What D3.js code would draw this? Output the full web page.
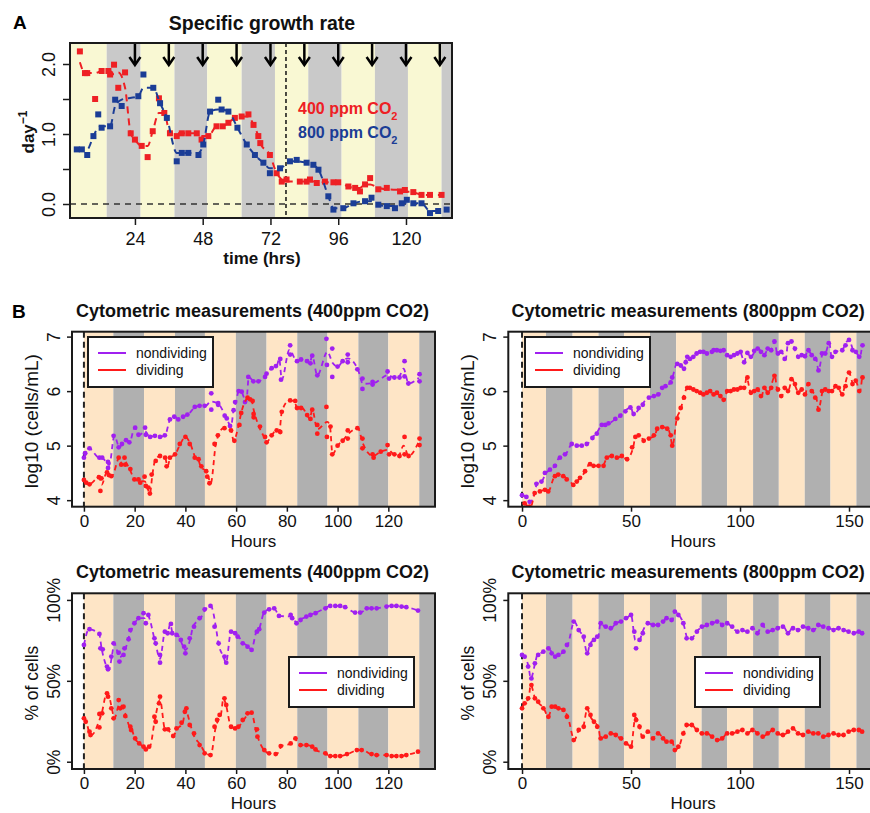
<!DOCTYPE html>
<html>
<head>
<meta charset="utf-8">
<script src="https://cdn.jsdelivr.net/npm/d3@7"></script>
<style>
body { margin: 0; background: #fff; }
svg { display: block; font-family: "Liberation Sans", Arial, Helvetica, sans-serif; }
</style>
</head>
<body>
<script>
// ---- panel A: specific growth rate (hours, day^-1)
const rate400 = [[4.5,2.18],[6.3,1.87],[7.1,1.87],[9.9,1.5],[12.2,1.9],[14.6,1.9],[15.2,1.85],[16.6,1.99],[18.1,1.66],[20.5,1.88],[22.5,1.01],[24,0.92],[26.4,0.83],[28.5,0.67],[30.3,1.04],[32.5,1.51],[34.4,1.3],[36.4,1.01],[38.8,0.97],[40.6,1.01],[42.9,1.01],[45.9,1.01],[47.6,0.92],[50,0.97],[52.9,1.11],[55.1,1.11],[57.1,1.16],[59.4,1.23],[61.8,1.25],[64.2,1.28],[66,1.13],[67.7,0.97],[68.4,0.87],[71.8,0.7],[74.2,0.44],[76,0.32],[77.7,0.35],[82.4,0.32],[84.8,0.32],[86,0.35],[88.4,0.3],[91.3,0.32],[94.3,0.31],[96,0.31],[99.6,0.25],[102,0.23],[103.7,0.18],[105.5,0.28],[107.3,0.37],[110.2,0.21],[113.2,0.23],[117.9,0.18],[119.6,0.2],[122.6,0.17],[125.5,0.13],[128.5,0.13],[132.6,0.13]];
const rate800 = [[3.4,0.78],[5.2,0.78],[7.1,0.7],[9.3,0.97],[11,1.28],[12.2,1.09],[15.2,1.11],[17,1.49],[19.3,1.4],[25.2,1.54],[27,1.85],[30.5,1.66],[32.9,1.44],[35.3,1.23],[38.8,0.61],[40.6,0.73],[42.9,0.73],[46.5,0.7],[48.2,0.85],[50.6,1.32],[53.5,1.49],[54.7,1.35],[57.1,1.32],[60.3,1.09],[63.6,0.85],[66.5,0.7],[69.5,0.59],[71.8,0.44],[75.4,0.51],[78.9,0.61],[81.3,0.63],[84.8,0.59],[87.2,0.56],[89,0.49],[92.5,0.11],[94.3,-0.08],[97.8,-0.06],[101.4,0.01],[105.5,0.04],[107.8,0.09],[110.2,-0.01],[113.2,-0.03],[116.1,-0.06],[118.5,0.01],[120.3,0.06],[122.6,0.01],[125.5,0.01],[128.5,-0.13],[131.4,-0.1],[134.4,-0.08]];
const dawnArrows = [24, 36, 48, 60, 72, 84, 96, 108, 120, 132];
const bandsA = [14, 26, 38, 49.6, 61.8, 73.6, 85.4, 97.2, 109, 120.7, 132.6];
const shiftHourA = 77.5;
const ticksA = [24, 48, 72, 96, 120];
const yTicksA = [0, 0.5, 1, 1.5, 2];

// ---- panel B: light/dark band edges (hours)
const bands400 = [0, 11.6, 23.7, 35.9, 47.7, 59.9, 72, 84.1, 96, 108.2, 120, 132.2];
const bands800 = [0, 11, 23.2, 35.1, 46.8, 58.7, 70.7, 82.4, 94.1, 106, 117.8, 129.7, 141.5, 153.4];
const ticks400 = [0, 20, 40, 60, 80, 100, 120];
const ticks800 = [0, 50, 100, 150];
const logTicks = [4, 5, 6, 7];
const pctTicks = [0, 50, 100];

// log10 cells/mL, 400 ppm
const nd400 = [[0,4.78],[0.5,4.86],[2.2,4.95],[6.1,4.78],[7.2,4.78],[9.5,4.59],[9.5,4.7],[11.7,5.18],[13.7,4.97],[15,5.03],[16.6,5.1],[17.9,5.06],[20.2,5.33],[21.5,5.2],[24.1,5.33],[24.4,5.2],[26.1,5.16],[28,5.18],[30,5.16],[31.9,5.19],[33.9,5.48],[35.6,5.53],[37.2,5.48],[39.1,5.53],[40.8,5.57],[43.7,5.71],[45.6,5.73],[47.6,5.73],[50.2,5.66],[50.2,5.96],[52.9,5.78],[52.9,5.75],[55.5,5.55],[56.3,5.5],[57.6,5.36],[59,5.65],[59.6,5.8],[61,6.0],[62.2,5.99],[63.5,5.8],[64.8,6.26],[66.8,6.18],[68.8,6.18],[71.4,6.26],[72,6.32],[74,6.42],[75.7,6.46],[77.4,6.59],[77.7,6.21],[81.3,6.84],[81.3,6.67],[84,6.55],[85.6,6.58],[88,6.55],[89.3,6.51],[90,6.65],[92,6.29],[95.6,6.96],[95.8,6.48],[97.9,6.78],[97.9,6.26],[100,6.45],[102,6.55],[104,6.53],[104,6.67],[107.8,6.4],[109.8,6.23],[109.8,6.04],[113.8,6.12],[113.8,6.17],[119.7,6.36],[120.3,6.23],[122.4,6.25],[124.4,6.25],[126.4,6.55],[126.4,6.27],[127.9,6.14],[132.3,6.31],[132.3,6.18]];
const dv400 = [[0,4.37],[0.9,4.32],[2.2,4.29],[5.9,4.42],[6.5,4.17],[6.9,4.4],[9.1,4.51],[9.8,4.46],[10.8,4.44],[13.7,4.78],[14.7,4.65],[16,4.78],[16.3,4.65],[18.3,4.57],[19.9,4.38],[21.5,4.38],[22.2,4.32],[23.9,4.43],[24.4,4.26],[25.4,4.23],[26,4.12],[26.7,4.47],[28.3,4.72],[30,4.81],[32,4.78],[32.6,4.62],[33.9,4.78],[35.9,4.84],[37.8,5.03],[40,5.16],[41.7,5.03],[43.7,4.78],[45.2,4.75],[46.3,4.62],[48.2,4.53],[48.6,4.43],[49.5,4.31],[51.5,5.03],[52.8,5.19],[55.4,5.32],[58,5.28],[59.3,5.09],[61.3,5.38],[62,5.6],[64.5,5.88],[65.5,5.85],[66.5,5.82],[66.9,5.58],[66.9,5.52],[69.4,5.35],[71.4,5.16],[72,5.06],[74,5.19],[76,5.28],[77.4,5.25],[78,5.62],[81.3,5.83],[83.3,5.82],[84,5.69],[85.6,5.69],[88,5.56],[89.3,5.49],[90,5.66],[92,5.38],[92,5.22],[95.6,5.71],[95.8,5.16],[97.2,5.35],[97.9,4.84],[100,5],[102,5.09],[104,5.13],[104,5.28],[107.8,5.32],[109.8,5.13],[109.8,4.95],[113.8,4.84],[114.2,4.78],[117,4.89],[119.7,5.01],[120.3,4.84],[122.4,4.84],[124.4,4.81],[126.4,5.16],[126.4,4.84],[128,4.81],[132.3,5.13],[132.3,5.01]];

// log10 cells/mL, 800 ppm
const nd800 = [[0,4.09],[2,4.06],[3.5,3.97],[6.6,4.3],[8.9,4.34],[10.5,4.5],[12.8,4.56],[15.1,4.63],[17.4,4.78],[19.7,4.84],[22.8,5.03],[25.1,5],[27.4,5],[29.7,5.03],[32.3,5.14],[34.3,5.22],[36.6,5.38],[38.2,5.38],[39.7,5.41],[42.8,5.49],[45.1,5.55],[47.4,5.63],[49.7,5.7],[51.2,5.58],[53.5,5.69],[55.4,5.75],[58.2,5.88],[60.5,5.91],[62.5,5.94],[64.3,6.06],[65.8,6.09],[68.2,6.16],[68.9,6.25],[71.2,6.5],[72.8,6.47],[74.3,6.41],[75.1,6.53],[75.8,6.63],[77,6.59],[78.6,6.63],[80.1,6.69],[81.7,6.72],[83.2,6.72],[84.8,6.69],[87.1,6.72],[87.9,6.75],[89.4,6.75],[91,6.74],[92.5,6.75],[94.1,6.66],[95.7,6.63],[97.2,6.66],[98.8,6.69],[100.3,6.72],[101.9,6.53],[103.4,6.7],[105,6.63],[106.5,6.74],[108.1,6.78],[109.6,6.72],[111.2,6.66],[112.7,6.78],[114.3,6.75],[115.8,6.91],[117.4,6.69],[118.9,6.72],[120.5,6.59],[122,6.88],[123.6,6.91],[125.2,6.78],[126.7,6.63],[128.3,6.66],[129.8,6.64],[131.4,6.75],[132.9,6.66],[134.5,6.59],[136,6.38],[137.6,6.69],[139.1,6.69],[140.7,6.88],[142.2,6.63],[143.8,6.72],[146.9,6.75],[148.4,6.84],[150,6.94],[151.6,6.75],[153.1,6.72],[154.7,6.63],[156.2,6.84]];
const dv800 = [[1.2,3.94],[3.5,3.88],[5.8,4.13],[8.2,4.16],[10.5,4.19],[12,4.16],[15.1,4.44],[16.6,4.47],[18.9,4.44],[20.5,4.38],[23.5,4.28],[25.1,4.34],[26.6,4.41],[28.9,4.53],[31.2,4.66],[32.8,4.63],[35.1,4.63],[37.4,4.63],[38.9,4.78],[41.2,4.81],[43.5,4.78],[45.8,4.81],[48.2,4.75],[50.5,4.97],[52,5.16],[53.5,5.19],[55.8,5.09],[58.2,5.13],[60.5,5.19],[62,5.31],[64.3,5.34],[66.6,5.31],[68.2,5.19],[68.9,5],[71.2,5.5],[72.8,5.69],[74.3,5.88],[75.8,6.06],[77,6.06],[78.6,6.03],[80.1,6],[81.7,5.97],[83.2,5.94],[84.8,5.97],[86.3,6],[87.9,5.94],[89.4,5.97],[91,5.91],[92.5,5.84],[94.1,6],[95.7,6],[97.2,6.03],[98.8,6.03],[100.3,6.06],[101.9,6.06],[103.4,6.25],[105,5.97],[106.5,6],[108.1,6.03],[109.6,5.91],[111.2,6.06],[112.7,5.97],[114.3,6.06],[115.8,6.28],[117.4,6.03],[118.9,5.91],[120.5,6.06],[122,6],[123.6,6.22],[125.2,6.13],[126.7,5.97],[128.3,6.03],[129.8,5.94],[131.4,6.13],[132.9,6],[134.5,5.88],[136,5.66],[137.6,6],[139.1,6.03],[140.7,6],[142.2,6],[143.8,6.09],[145.3,6.06],[146.9,5.94],[148.4,6.09],[150,6.34],[151.6,6.13],[153.1,6.19],[154.7,6],[156.2,6.25]];

// % of cells, 400 ppm
const nd400pct = [[0,72.2],[2.2,81.9],[6.1,79],[6.5,70.1],[7.4,69.5],[9.1,58.8],[9.5,57.1],[10.8,65],[11.7,73.2],[13.7,67.4],[14,61.9],[15.6,66],[16,70.1],[17.6,75.7],[18.3,81.4],[19.9,85.6],[21.5,88.7],[23.5,91.8],[24.4,85.6],[25.4,90.7],[27.8,76.3],[28.3,73.2],[30,66],[30,61.2],[31.9,80.4],[33,79.4],[34.3,85.2],[34.8,79.4],[36.5,78.4],[38.2,75.3],[39.5,71.1],[40,67],[41.7,76.3],[43.4,83.5],[45.6,88.7],[47.6,94.2],[49.9,96.3],[51.5,83.5],[53.1,73.2],[55.4,65],[56.1,61.2],[58,80.4],[59.6,79.4],[60.6,77.3],[62.6,73.2],[64.5,71.1],[66.1,69.1],[68.2,80.4],[69.1,81.9],[71.1,92.2],[73,94.2],[75,94.8],[76.9,90.1],[81.5,90.7],[82.1,88.7],[83.8,85.6],[85.4,87.6],[87.7,89.7],[89.3,90.7],[91.3,91.8],[95.2,94.8],[97.1,96.3],[99.1,96.3],[101,96.3],[103,95.5],[106.9,92.2],[108.9,92.2],[111.5,94.8],[113.4,94.8],[115.4,94.8],[119.3,95.9],[121.3,96.3],[123.2,96.3],[125.2,95.9],[127.1,95.5],[131.7,93.4]];
const dv400pct = [[0,26.8],[0.7,24.7],[2.2,18.6],[2.6,16.5],[6.1,29.5],[6.1,21.2],[7.2,29.9],[9.1,42.3],[9.5,40.2],[10.8,33],[11.7,26.8],[13.7,38.1],[14.3,33],[15.6,34],[16.3,28.2],[18.3,21.6],[18.6,19.6],[20.2,14.4],[21.8,11.3],[23.5,9.3],[24.4,7.6],[25.7,9.3],[27.8,27.8],[28.3,24.7],[29.6,36.1],[30,40.2],[31.9,20],[33.2,20],[35.2,15.9],[36.5,20.6],[38.5,24.1],[39.8,30.9],[40.4,33],[41.7,22.7],[43.4,17.5],[45.6,10.3],[47.6,5.2],[49.9,4.1],[51.5,21.6],[52.5,25.8],[53.5,28.9],[55.4,39.2],[56.1,35.1],[58,21.6],[59.6,20.6],[60.9,21.6],[62.6,25.8],[64.5,29.9],[66.1,30.3],[68.2,20],[68.4,15.5],[71.1,7.2],[73,5.2],[75.6,4.7],[77.6,9.7],[81.5,11.3],[83.4,14.4],[85.4,10.3],[87.7,10.3],[90,9.3],[91.3,7.6],[95.2,5.2],[97.1,3.5],[99.1,3.5],[101,3.5],[103.7,4.7],[107.6,7.2],[109.5,7.2],[113.4,4.7],[115.4,4.1],[119.3,4.1],[121.3,3.5],[123.2,3.5],[125.2,3.5],[127.1,4.1],[131.7,6.2]];

// % of cells, 800 ppm
const nd800pct = [[0,66],[1.2,64.9],[2.8,58.8],[4.3,51.5],[5.9,60.8],[7.4,66],[9.8,68],[12.1,70.1],[13.6,67],[15.2,64.9],[16.7,66],[19,68],[20.6,72.2],[23.7,86.6],[26,81.4],[28.3,77.3],[29.9,67],[31.4,72.2],[33,75.3],[34.5,77.3],[36.1,85.6],[38.4,83.5],[40.7,82.5],[43,85.6],[45.4,86.6],[47.7,88.7],[50,90.7],[51.5,80.4],[52.3,70.1],[53.9,75.3],[55.4,79.4],[57.7,85.6],[60.1,84.5],[62.4,84.5],[64.7,86.6],[66.3,88.7],[68.6,87.6],[70.1,92.8],[71.7,90.7],[74,85.6],[75.5,76.3],[77.9,76.3],[80.2,80.4],[82.5,83.5],[84.8,84.5],[87.2,85.6],[89.5,86.6],[91.8,84.5],[94.1,85.6],[96.4,83.5],[98.8,80.4],[101.1,81.4],[103.4,80.4],[105.7,82.5],[108,79.4],[110.4,84.5],[112.7,80.4],[115,81.4],[117.3,82.5],[119.7,83.5],[122,79.4],[124.3,82.5],[126.6,81.4],[128.9,83.5],[131.3,82.5],[133.6,81.4],[135.9,84.5],[138.2,83.5],[140.6,82.5],[142.9,81.4],[145.2,82.5],[147.5,81.4],[149.8,80.4],[152.2,79.4],[154.5,80.4],[156,79.4]];
const dv800pct = [[0,33],[1.2,36.1],[2.8,39.2],[4.3,47.4],[5.9,39.2],[7.4,37.1],[9.8,33],[12.1,27.8],[13.6,34],[15.2,34],[16.7,33],[19,32],[20.6,27.8],[23.7,13.4],[26,19.6],[28.3,21.6],[29.9,33],[31.4,28.9],[33,24.7],[34.5,21.6],[36.1,14.4],[38.4,15.5],[40.7,17.5],[43,16.5],[45.4,14.4],[47.7,11.3],[50,9.3],[51.5,28.9],[52.3,25.8],[53.9,21.6],[55.4,15.5],[57.7,18.6],[60.1,14.4],[62.4,17.5],[64.7,14.4],[66.3,12.4],[68.6,12.4],[70.1,7.2],[71.7,9.3],[74,17.5],[75.5,22.7],[77.9,22.7],[80.2,19.6],[82.5,17.5],[84.8,17.5],[87.2,15.5],[89.5,13.4],[91.8,14.4],[94.1,17.5],[96.4,17.5],[98.8,18.6],[101.1,19.6],[103.4,17.5],[105.7,19.6],[108,17.5],[110.4,15.5],[112.7,17.5],[115,19.6],[117.3,17.5],[119.7,16.5],[122,18.6],[124.3,20.6],[126.6,17.5],[128.9,16.5],[131.3,18.6],[133.6,17.5],[135.9,17.5],[138.2,15.5],[140.6,16.5],[142.9,17.5],[145.2,16.5],[147.5,16.5],[149.8,18.6],[152.2,19.6],[154.5,19.6],[156,18.6]];

const RED = '#ff1a1a', PURPLE = '#a020f0';
const RED_A = '#ee2024', BLUE_A = '#1b3d96';

const svg = d3.select('body').append('svg')
    .attr('width', 870)
    .attr('height', 813);

let clipCount = 0;

// one framed plot region with light/dark bands
function makePanel(o) {
    const x = d3.scaleLinear().domain(o.xDomain).range([o.left, o.right]);
    const y = d3.scaleLinear().domain(o.yDomain).range([o.bottom, o.top]);
    const id = 'clip' + (clipCount++);
    svg.append('clipPath').attr('id', id).append('rect')
        .attr('x', o.left).attr('y', o.top)
        .attr('width', o.right - o.left).attr('height', o.bottom - o.top);
    const g = svg.append('g').attr('clip-path', `url(#${id})`);
    g.append('rect')
        .attr('x', o.left).attr('y', o.top)
        .attr('width', o.right - o.left).attr('height', o.bottom - o.top)
        .attr('fill', '#fff');
    const edges = o.edges;
    g.selectAll('rect.band')
        .data(edges)
        .enter().append('rect')
        .attr('class', 'band')
        .attr('x', d => x(d))
        .attr('y', o.top)
        .attr('width', (d, i) => x(i < edges.length - 1 ? edges[i + 1] : o.xDomain[1]) - x(d))
        .attr('height', o.bottom - o.top)
        .attr('fill', (d, i) => i % 2 ? o.dark : o.light);
    return {x, y, g, o};
}

function frame(p) {
    const o = p.o;
    svg.append('rect')
        .attr('x', o.left).attr('y', o.top)
        .attr('width', o.right - o.left).attr('height', o.bottom - o.top)
        .attr('fill', 'none').attr('stroke', '#1a1a1a').attr('stroke-width', 2);
}

function xAxis(p, ticks, size, pad, fs) {
    const ax = svg.append('g')
        .attr('transform', `translate(0,${p.o.bottom})`)
        .call(d3.axisBottom(p.x).tickValues(ticks).tickSize(size).tickPadding(pad));
    ax.attr('font-family', null).attr('font-size', fs);
    ax.select('.domain').remove();
    ax.selectAll('.tick line').attr('stroke', '#1a1a1a').attr('stroke-width', 1.5);
    ax.selectAll('.tick text').attr('fill', '#111');
}

function yAxis(p, ticks, fmt, size, off, fs) {
    const ax = svg.append('g')
        .attr('transform', `translate(${p.o.left},0)`)
        .call(d3.axisLeft(p.y).tickValues(ticks).tickSize(size).tickFormat(fmt));
    ax.attr('font-family', null).attr('font-size', fs);
    ax.select('.domain').remove();
    ax.selectAll('.tick line').attr('stroke', '#1a1a1a').attr('stroke-width', 1.5);
    ax.selectAll('.tick text')
        .attr('fill', '#111')
        .attr('transform', 'rotate(-90)')
        .attr('x', 0).attr('y', -off).attr('dy', 0)
        .attr('text-anchor', 'middle');
}

function label(x, y, txt, fs, weight, rot) {
    return svg.append('text')
        .attr('transform', `translate(${x},${y})` + (rot ? ' rotate(-90)' : ''))
        .attr('text-anchor', 'middle')
        .attr('font-size', fs)
        .attr('font-weight', weight)
        .attr('fill', '#111')
        .text(txt);
}

// ===================== Panel A =====================
const pA = makePanel({
    left: 70, right: 452, top: 43, bottom: 218,
    xDomain: [1, 136.3], yDomain: [-0.2, 2.3],
    edges: [1].concat(bandsA), light: '#f9f8d3', dark: '#c9c9c9'
});

pA.g.append('line')
    .attr('x1', pA.o.left).attr('x2', pA.o.right)
    .attr('y1', pA.y(0)).attr('y2', pA.y(0))
    .attr('stroke', '#333').attr('stroke-width', 1.5).attr('stroke-dasharray', '6,5');
pA.g.append('line')
    .attr('x1', pA.x(shiftHourA)).attr('x2', pA.x(shiftHourA))
    .attr('y1', pA.o.top).attr('y2', pA.o.bottom)
    .attr('stroke', '#111').attr('stroke-width', 1.5).attr('stroke-dasharray', '4,3');

// smoothed trace: running median of three
function runMedian(data) {
    return data.map((d, i) => [d[0], d3.median(data.slice(Math.max(0, i - 1), i + 2), e => e[1])]);
}

[[rate400, RED_A], [rate800, BLUE_A]].forEach(([data, col]) => {
    pA.g.append('path')
        .attr('d', d3.line().x(d => pA.x(d[0])).y(d => pA.y(d[1])).curve(d3.curveMonotoneX)(runMedian(data)))
        .attr('fill', 'none').attr('stroke', col).attr('stroke-width', 2)
        .attr('stroke-dasharray', '7,5');
    pA.g.selectAll(null)
        .data(data)
        .enter().append('rect')
        .attr('x', d => pA.x(d[0]) - 3)
        .attr('y', d => pA.y(d[1]) - 3)
        .attr('width', 6).attr('height', 6)
        .attr('fill', col);
});

// arrows at the top of the panel
dawnArrows.forEach(h => {
    const ax = pA.x(h);
    svg.append('line')
        .attr('x1', ax).attr('x2', ax).attr('y1', 44).attr('y2', 64)
        .attr('stroke', '#000').attr('stroke-width', 2.5);
    svg.append('path')
        .attr('d', `M${ax - 5.5},${57} L${ax},${65} L${ax + 5.5},${57}`)
        .attr('fill', 'none').attr('stroke', '#000').attr('stroke-width', 2.5);
});

frame(pA);
xAxis(pA, ticksA, 7, 7, 18);
yAxis(pA, yTicksA, d => d % 1 === 0 ? d3.format('.1f')(d) : '', 7, 15, 18);

svg.append('text').attr('x', 13).attr('y', 29)
    .attr('font-size', 19).attr('font-weight', 'bold').text('A');
label(262, 30, 'Specific growth rate', 19.5, 'bold');
label(262, 264, 'time (hrs)', 17, 'bold');
const dayLab = label(34, 132, 'day', 17, 'bold', true);
dayLab.append('tspan').attr('baseline-shift', 'super').attr('font-size', 12).text('−1');

[['400 ppm CO', RED_A, 114], ['800 ppm CO', BLUE_A, 138]].forEach(([t, col, yy]) => {
    const tx = svg.append('text').attr('x', 298).attr('y', yy)
        .attr('font-size', 16).attr('font-weight', 'bold').attr('fill', col).text(t);
    tx.append('tspan').attr('baseline-shift', 'sub').attr('font-size', 11).text('2');
});

// ===================== Panel B =====================
svg.append('text').attr('x', 12).attr('y', 318)
    .attr('font-size', 19).attr('font-weight', 'bold').text('B');

function cytoPanel(o) {
    const p = makePanel(o);
    p.g.append('line')
        .attr('x1', p.x(0)).attr('x2', p.x(0))
        .attr('y1', o.top).attr('y2', o.bottom)
        .attr('stroke', '#222').attr('stroke-width', 2).attr('stroke-dasharray', '6,4');
    o.series.forEach(([data, col]) => {
        const trend = d3.rollups(data, v => d3.mean(v, d => d[1]), d => Math.round(d[0]))
            .sort((a, b) => a[0] - b[0]);
        p.g.append('path')
            .attr('d', d3.line().x(d => p.x(d[0])).y(d => p.y(d[1])).curve(d3.curveMonotoneX)(trend))
            .attr('fill', 'none').attr('stroke', col).attr('stroke-width', 1.8)
            .attr('stroke-dasharray', '5,4');
        p.g.selectAll(null)
            .data(data)
            .enter().append('circle')
            .attr('cx', d => p.x(d[0]))
            .attr('cy', d => p.y(d[1]))
            .attr('r', 2.4)
            .attr('fill', col);
    });
    frame(p);
    xAxis(p, o.xTicks, 5, 3, 17);
    yAxis(p, o.yTicks, o.yFmt, 5, 12, 17.5);
    const visRight = Math.min(o.right, 870);
    label((o.left + visRight) / 2 - 1, o.top - 15, o.title, 18, 'bold');
    label((o.left + o.right) / 2, o.bottom + 40, 'Hours', 17, 'normal');
    label(o.left - 34, (o.top + o.bottom) / 2 + 2, o.yLabel, o.yLabelSize, 'normal', true);

    // legend
    const L = o.legend;
    svg.append('rect').attr('x', L[0]).attr('y', L[1]).attr('width', 125).attr('height', 50)
        .attr('fill', '#fff').attr('stroke', '#1a1a1a').attr('stroke-width', 2);
    [['nondividing', PURPLE, 16], ['dividing', RED, 33]].forEach(([t, col, dy]) => {
        svg.append('line')
            .attr('x1', L[0] + 10).attr('x2', L[0] + 38)
            .attr('y1', L[1] + dy).attr('y2', L[1] + dy)
            .attr('stroke', col).attr('stroke-width', 2);
        svg.append('text').attr('x', L[0] + 48).attr('y', L[1] + dy + 5)
            .attr('font-size', 14).attr('fill', '#111').text(t);
    });
    return p;
}

const leftBox = {left: 72, right: 435, xDomain: [-4.7, 138.4], edges: bands400, xTicks: ticks400};
const rightBox = {left: 508.3, right: 878, xDomain: [-6.3, 163.3], edges: bands800, xTicks: ticks800};
const colours = {light: '#fee5c6', dark: '#b0b0b0'};
const logBox = {top: 331.7, bottom: 506.7, yDomain: [3.88, 7.09], yTicks: logTicks, yFmt: d => d, yLabel: 'log10 (cells/mL)', yLabelSize: 19};
const pctBox = {top: 593.3, bottom: 769, yDomain: [-4.5, 104.1], yTicks: pctTicks, yFmt: d => d + '%', yLabel: '% of cells', yLabelSize: 17.5};

cytoPanel(Object.assign({}, leftBox, logBox, colours, {
    title: 'Cytometric measurements (400ppm CO2)',
    series: [[nd400, PURPLE], [dv400, RED]], legend: [88, 337]
}));
cytoPanel(Object.assign({}, rightBox, logBox, colours, {
    title: 'Cytometric measurements (800ppm CO2)',
    series: [[nd800, PURPLE], [dv800, RED]], legend: [525, 337]
}));
cytoPanel(Object.assign({}, leftBox, pctBox, colours, {
    title: 'Cytometric measurements (400ppm CO2)',
    series: [[nd400pct, PURPLE], [dv400pct, RED]], legend: [289, 657]
}));
cytoPanel(Object.assign({}, rightBox, pctBox, colours, {
    title: 'Cytometric measurements (800ppm CO2)',
    series: [[nd800pct, PURPLE], [dv800pct, RED]], legend: [695, 657]
}));
</script>
</body>
</html>
